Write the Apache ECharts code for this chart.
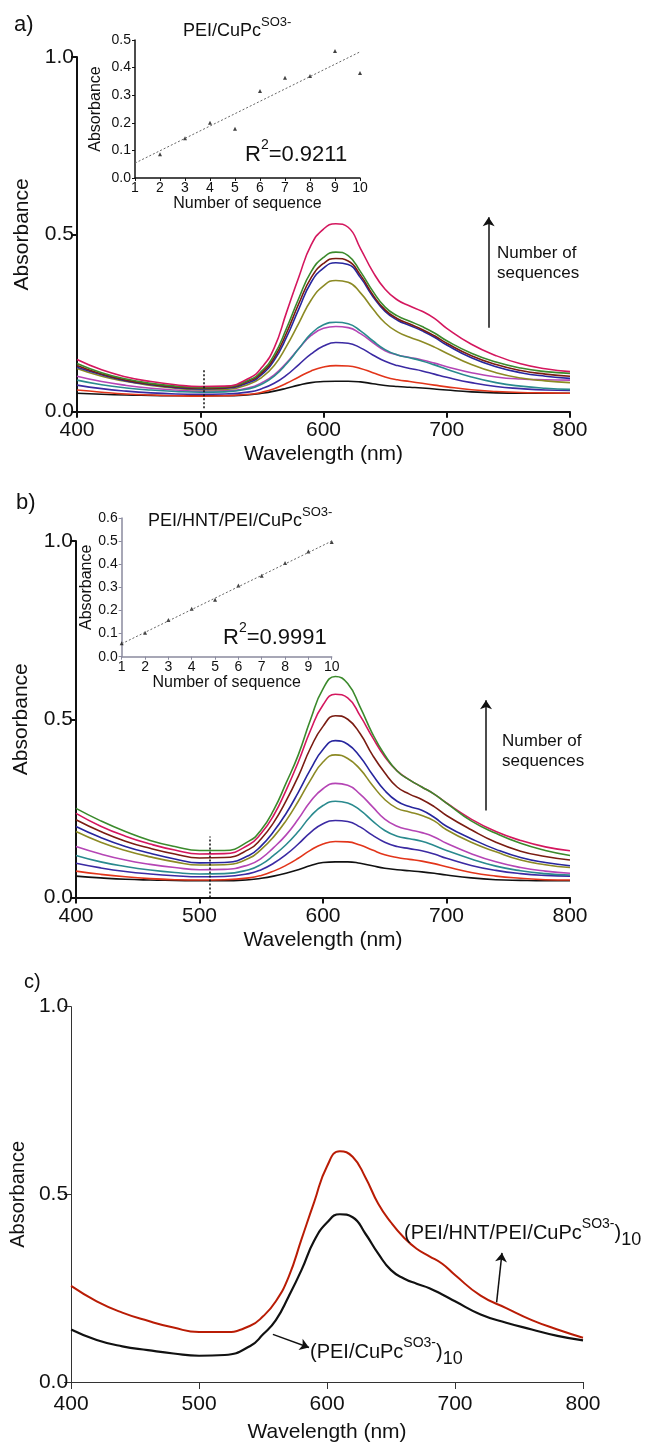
<!DOCTYPE html>
<html><head><meta charset="utf-8">
<script src="https://cdn.jsdelivr.net/npm/echarts@6/dist/echarts.min.js"></script>
<style>html,body{margin:0;padding:0;background:#fff}#c{width:653px;height:1444px}</style>
</head><body><div id="c"></div>
<script>
// ---- data ----
const wavelengths = [400,420,440,460,480,500,520,540,550,560,570,580,590,600,610,620,630,640,650,660,670,680,690,700,720,740,760,780,800];
// panel a spectra (PEI/CuPc) from bottom to top
const aBlack  = [0.052,0.049,0.047,0.046,0.045,0.045,0.045,0.048,0.052,0.058,0.066,0.075,0.082,0.085,0.086,0.086,0.084,0.079,0.074,0.071,0.069,0.067,0.064,0.061,0.056,0.053,0.052,0.052,0.052];
const aRed    = [0.061,0.055,0.050,0.047,0.045,0.044,0.045,0.049,0.055,0.065,0.080,0.098,0.115,0.126,0.130,0.129,0.122,0.110,0.098,0.090,0.085,0.080,0.075,0.070,0.062,0.057,0.054,0.053,0.052];
const aIndigo = [0.075,0.065,0.058,0.053,0.050,0.049,0.050,0.056,0.065,0.080,0.103,0.133,0.163,0.185,0.195,0.193,0.180,0.160,0.142,0.130,0.122,0.115,0.106,0.097,0.082,0.071,0.065,0.061,0.060];
const aMagenta= [0.100,0.085,0.074,0.066,0.061,0.058,0.059,0.068,0.082,0.104,0.138,0.178,0.215,0.235,0.240,0.237,0.220,0.195,0.172,0.160,0.153,0.146,0.137,0.127,0.110,0.098,0.092,0.090,0.089];
const aTeal   = [0.089,0.076,0.067,0.061,0.057,0.055,0.056,0.065,0.078,0.100,0.135,0.178,0.220,0.245,0.252,0.248,0.228,0.200,0.175,0.160,0.152,0.143,0.132,0.120,0.098,0.082,0.072,0.066,0.063];
const aOlive  = [0.122,0.100,0.085,0.074,0.066,0.062,0.063,0.078,0.097,0.130,0.185,0.250,0.315,0.355,0.370,0.365,0.335,0.290,0.250,0.225,0.210,0.197,0.182,0.165,0.133,0.110,0.095,0.087,0.082];
const aBlue   = [0.125,0.104,0.087,0.076,0.068,0.064,0.066,0.083,0.105,0.145,0.210,0.290,0.365,0.405,0.420,0.415,0.378,0.325,0.283,0.258,0.243,0.228,0.210,0.188,0.152,0.127,0.110,0.100,0.094];
const aMaroon = [0.130,0.106,0.089,0.078,0.070,0.066,0.068,0.087,0.110,0.152,0.222,0.305,0.378,0.418,0.432,0.425,0.385,0.330,0.287,0.262,0.247,0.232,0.214,0.193,0.158,0.133,0.116,0.106,0.100];
const aGreen  = [0.136,0.110,0.092,0.080,0.072,0.068,0.070,0.090,0.115,0.160,0.235,0.320,0.395,0.435,0.450,0.440,0.395,0.340,0.295,0.270,0.255,0.240,0.222,0.200,0.165,0.140,0.123,0.113,0.108];
const aCrimson= [0.147,0.118,0.098,0.085,0.076,0.071,0.072,0.095,0.125,0.180,0.280,0.380,0.470,0.515,0.530,0.520,0.460,0.395,0.345,0.315,0.298,0.283,0.263,0.235,0.190,0.158,0.135,0.121,0.113];
// panel b spectra (PEI/HNT/PEI/CuPc)
const bBlack  = [0.060,0.055,0.051,0.049,0.048,0.047,0.047,0.050,0.054,0.060,0.068,0.078,0.090,0.098,0.100,0.100,0.096,0.089,0.082,0.078,0.075,0.072,0.068,0.063,0.055,0.050,0.048,0.047,0.047];
const bRed    = [0.074,0.065,0.058,0.053,0.050,0.049,0.050,0.055,0.062,0.074,0.090,0.110,0.133,0.150,0.157,0.156,0.147,0.133,0.120,0.112,0.107,0.102,0.095,0.086,0.070,0.060,0.054,0.050,0.049];
const bIndigo = [0.096,0.083,0.073,0.066,0.061,0.058,0.059,0.067,0.078,0.096,0.120,0.150,0.183,0.207,0.216,0.213,0.198,0.175,0.155,0.143,0.137,0.131,0.122,0.110,0.090,0.076,0.067,0.062,0.060];
const bTeal   = [0.118,0.100,0.087,0.077,0.070,0.066,0.067,0.078,0.093,0.118,0.148,0.185,0.228,0.258,0.270,0.265,0.245,0.215,0.188,0.172,0.165,0.158,0.146,0.132,0.108,0.088,0.075,0.067,0.063];
const bMagenta= [0.143,0.122,0.105,0.093,0.084,0.078,0.079,0.092,0.110,0.140,0.175,0.220,0.270,0.305,0.320,0.315,0.290,0.255,0.220,0.200,0.190,0.182,0.170,0.152,0.123,0.100,0.084,0.074,0.068];
const bOlive  = [0.185,0.155,0.132,0.114,0.100,0.091,0.092,0.110,0.135,0.170,0.215,0.270,0.330,0.380,0.400,0.390,0.360,0.315,0.275,0.250,0.240,0.230,0.215,0.190,0.155,0.128,0.105,0.092,0.084];
const bBlue   = [0.199,0.168,0.143,0.124,0.108,0.097,0.098,0.118,0.145,0.185,0.235,0.295,0.360,0.415,0.440,0.430,0.395,0.345,0.300,0.270,0.255,0.245,0.225,0.200,0.165,0.135,0.112,0.098,0.089];
const bMaroon = [0.218,0.185,0.158,0.138,0.122,0.111,0.112,0.135,0.165,0.210,0.270,0.340,0.420,0.480,0.510,0.500,0.460,0.400,0.350,0.310,0.290,0.275,0.255,0.230,0.190,0.155,0.130,0.115,0.105];
const bCrimson= [0.236,0.200,0.172,0.150,0.133,0.122,0.123,0.148,0.180,0.230,0.300,0.380,0.470,0.540,0.570,0.560,0.510,0.450,0.395,0.355,0.330,0.310,0.290,0.265,0.220,0.185,0.160,0.142,0.131];
const bGreen  = [0.250,0.215,0.185,0.160,0.143,0.132,0.132,0.158,0.190,0.245,0.320,0.400,0.500,0.585,0.620,0.600,0.535,0.460,0.400,0.355,0.330,0.310,0.290,0.265,0.215,0.180,0.152,0.132,0.118];
// panel c
const cHNT    = [0.256,0.215,0.185,0.163,0.145,0.133,0.133,0.150,0.175,0.215,0.280,0.380,0.480,0.575,0.615,0.600,0.545,0.475,0.425,0.385,0.355,0.335,0.315,0.285,0.230,0.197,0.165,0.140,0.118];
const cPEI    = [0.140,0.112,0.095,0.085,0.076,0.070,0.072,0.096,0.127,0.165,0.228,0.298,0.377,0.425,0.447,0.439,0.395,0.342,0.298,0.276,0.262,0.250,0.233,0.215,0.180,0.158,0.140,0.123,0.111];
// insets
const insetAX = [2,3,4,5,6,7,8,9,10];
const insetAY = [0.086,0.144,0.200,0.178,0.315,0.363,0.370,0.460,0.380];
const insetAFit = [[1,0.054],[10,0.457]];
const insetBX = [1,2,3,4,5,6,7,8,9,10];
const insetBY = [0.058,0.104,0.159,0.207,0.246,0.308,0.350,0.405,0.455,0.496];
const insetBFit = [[1,0.056],[10,0.500]];

// ---- chart ----
const FONT = '"Liberation Sans", Arial, sans-serif';
const chart = echarts.init(document.getElementById('c'), null, {renderer:'canvas'});
const pair = arr => wavelengths.map((w,i)=>[w,arr[i]]);

function mainX(gi, thin){
  return {gridIndex:gi, type:'value', min:400, max:800, interval:100,
    name:'Wavelength (nm)', nameLocation:'middle', nameGap: thin?40:32,
    nameTextStyle:{fontSize:21, color:'#111', fontFamily:FONT},
    axisLine:{lineStyle:{color:thin?'#333':'#111', width:thin?1:2}},
    axisTick:{length:thin?7:6, lineStyle:{color:thin?'#333':'#111', width:thin?1:2}},
    axisLabel:{fontSize:21, color:'#111', fontFamily:FONT, margin:thin?12:8},
    splitLine:{show:false}};
}
function mainY(gi, thin){
  return {gridIndex:gi, type:'value', min:0, max:1, interval:0.5,
    name:'Absorbance', nameLocation:'middle', nameGap: thin?42:44, nameRotate:90,
    nameTextStyle:{fontSize:thin?20:21, color:'#111', fontFamily:FONT},
    axisLine:{show:true, lineStyle:{color:thin?'#333':'#111', width:thin?1:2}},
    axisTick:{show:true, length:thin?7:6, lineStyle:{color:thin?'#333':'#111', width:thin?1:2}},
    axisLabel:{fontSize:21, color:'#111', fontFamily:FONT, margin:3, formatter:v=>v.toFixed(1)},
    splitLine:{show:false}};
}
function insetX(gi, col){
  return {gridIndex:gi, type:'value', min:1, max:10, interval:1,
    name:'Number of sequence', nameLocation:'middle', nameGap:16,
    nameTextStyle:{fontSize:16, color:'#111', fontFamily:FONT},
    axisLine:{lineStyle:{color:col, width:1.5}},
    axisTick:{length:3, lineStyle:{color:col}},
    axisLabel:{fontSize:14, color:'#111', fontFamily:FONT, margin:3},
    splitLine:{show:false}};
}
function insetY(gi, col, max, gap){
  return {gridIndex:gi, type:'value', min:0, max:max, interval:0.1,
    name:'Absorbance', nameLocation:'middle', nameGap:gap, nameRotate:90,
    nameTextStyle:{fontSize:16, color:'#111', fontFamily:FONT},
    axisLine:{show:true, lineStyle:{color:col, width:1.5}},
    axisTick:{show:true, length:3, lineStyle:{color:col}},
    axisLabel:{fontSize:14, color:'#111', fontFamily:FONT, margin:4, formatter:v=>v.toFixed(1)},
    splitLine:{show:false}};
}

function spec(gi, data, color, w, extra){
  return Object.assign({type:'line', xAxisIndex:gi, yAxisIndex:gi, data:pair(data),
    showSymbol:false, symbol:'none', smooth:0.5,
    lineStyle:{color:color, width:w||1.6}, itemStyle:{color:color}, silent:true, z:3}, extra||{});
}
function arrowLine(p1, p2){
  return {silent:true, symbol:['none','arrow'], symbolSize:9, label:{show:false},
    lineStyle:{color:'#111', width:1.5, type:'solid'}, itemStyle:{color:'#111'}, animation:false,
    emphasis:{disabled:true},
    data:[[{coord:p1},{coord:p2}]]};
}
function dottedLine(p1, p2){
  return {silent:true, symbol:['none','none'], label:{show:false},
    lineStyle:{color:'#111', width:1.5, type:[2,2]}, animation:false,
    emphasis:{disabled:true},
    data:[[{coord:p1},{coord:p2}]]};
}

const cols = {black:'#111111', red:'#e2351a', indigo:'#3b2aa3', magenta:'#b545b5', teal:'#2a8a8e',
  olive:'#8c8a24', blue:'#27269e', maroon:'#7a1c12', green:'#3b8a2c', crimson:'#d4175e'};

const series = [
  spec(0,aBlack,cols.black,1.6,{markLine:dottedLine([503,0.01],[503,0.117])}),
  spec(0,aRed,cols.red), spec(0,aIndigo,cols.indigo), spec(0,aMagenta,cols.magenta), spec(0,aTeal,cols.teal),
  spec(0,aOlive,cols.olive), spec(0,aBlue,cols.blue), spec(0,aMaroon,cols.maroon), spec(0,aGreen,cols.green),
  spec(0,aCrimson,cols.crimson,1.6,{markLine:arrowLine([734,0.237],[734,0.548])}),
  {type:'line', xAxisIndex:1, yAxisIndex:1, data:insetAFit, showSymbol:false, symbol:'none',
    lineStyle:{color:'#666', width:1, type:[2,2]}, silent:true},
  {type:'scatter', xAxisIndex:1, yAxisIndex:1, data:insetAX.map((x,i)=>[x,insetAY[i]]), symbol:'triangle', symbolSize:4,
    itemStyle:{color:'#111'}, silent:true},
  spec(2,bBlack,cols.black,1.6,{markLine:dottedLine([508,0.0],[508,0.171])}),
  spec(2,bRed,cols.red), spec(2,bIndigo,cols.indigo), spec(2,bTeal,cols.teal), spec(2,bMagenta,cols.magenta),
  spec(2,bOlive,cols.olive), spec(2,bBlue,cols.blue), spec(2,bMaroon,cols.maroon), spec(2,bCrimson,cols.crimson),
  spec(2,bGreen,cols.green,1.6,{markLine:arrowLine([732,0.244],[732,0.553])}),
  {type:'line', xAxisIndex:3, yAxisIndex:3, data:insetBFit, showSymbol:false, symbol:'none',
    lineStyle:{color:'#666', width:1, type:[2,2]}, silent:true},
  {type:'scatter', xAxisIndex:3, yAxisIndex:3, data:insetBX.map((x,i)=>[x,insetBY[i]]), symbol:'triangle', symbolSize:4,
    itemStyle:{color:'#111'}, silent:true},
  spec(4,cPEI,'#111111',2.2,{markLine:arrowLine([557.7,0.127],[585.9,0.092])}),
  spec(4,cHNT,'#b91c05',2.0,{markLine:arrowLine([732.5,0.212],[736.7,0.344])})
];

const supRich = (m, s) => ({m:{fontSize:m, fontFamily:FONT, color:'#111', lineHeight:m+12},
  sup:{fontSize:s, fontFamily:FONT, color:'#111', verticalAlign:'top', lineHeight:s+2},
  sub:{fontSize:m-2, fontFamily:FONT, color:'#111', verticalAlign:'bottom', lineHeight:m-2}});
function txt(x, y, text, size, rich){
  const st = {text:text, fontSize:size, fontFamily:FONT, fill:'#111', align:'left', verticalAlign:'middle'};
  if (rich) st.rich = rich;
  return {type:'text', x:x, y:y, z:10, silent:true, style:st};
}

const option = {
  animation:false,
  backgroundColor:'#fff',
  grid:[
    {left:77, top:57, width:493, height:354.7},
    {left:135, top:40, width:225, height:138},
    {left:76, top:541, width:494, height:356.5},
    {left:121.7, top:518, width:210, height:138.7},
    {left:68, top:1006.7, width:515, height:380}
  ],
  xAxis:[mainX(0,false), insetX(1,'#111'), mainX(2,false), insetX(3,'#8a8a9e'), mainX(4,true)],
  yAxis:[mainY(0,false), insetY(1,'#111',0.5,31), mainY(2,false), insetY(3,'#8a8a9e',0.6,25), mainY(4,true)],
  series:series,
  graphic:[
    txt(14, 25, 'a)', 22),
    txt(16, 503, 'b)', 22),
    txt(24, 982, 'c)', 20),
    txt(183, 31, '{m|PEI/CuPc}{sup|SO3-}', 18, supRich(18,13)),
    txt(245, 155, '{m|R}{sup|2}{m|=0.9211}', 22, supRich(22,14)),
    txt(148, 521, '{m|PEI/HNT/PEI/CuPc}{sup|SO3-}', 18, supRich(18,13)),
    txt(223, 638, '{m|R}{sup|2}{m|=0.9991}', 22, supRich(22,14)),
    txt(497, 253, 'Number of', 17), txt(497, 273, 'sequences', 17),
    txt(502, 741, 'Number of', 17), txt(502, 761, 'sequences', 17),
    txt(404, 1233, '{m|(PEI/HNT/PEI/CuPc}{sup|SO3-}{m|)}{sub|10}', 20, supRich(20,14)),
    txt(310, 1352, '{m|(PEI/CuPc}{sup|SO3-}{m|)}{sub|10}', 20, supRich(20,14))
  ]
};
chart.setOption(option);
</script></body></html>
